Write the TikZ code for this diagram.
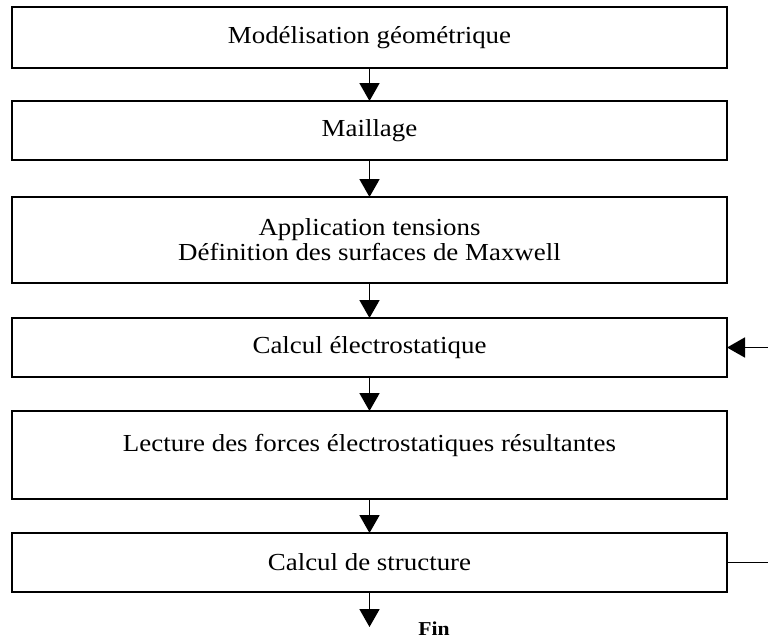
\documentclass[tikz,border=0pt]{standalone}
\usepackage{fontspec}
\setmainfont{Liberation Serif}[FakeStretch=1.1]
\usetikzlibrary{arrows.meta}
\definecolor{vblack}{HTML}{000000}

\tikzset{
	etape/.style = {draw = vblack, line width = 1.4pt, minimum width = 17.875cm, inner sep = 0pt, outer sep = 0pt, align = center, font = \fontsize{17.4}{17.8}\selectfont},
	fleche/.style = {draw = vblack, line width = 1.3pt, -{Triangle[width = 5mm, length = 4.5mm]}}
}

\begin{document}
\begin{tikzpicture}
	\useasboundingbox (0,0) rectangle (19.2,-15.95);
	% etapes
	\node[etape, minimum height = 1.525cm] (modele) at (9.2375,-0.9375) {Modélisation géométrique};
	\node[etape, minimum height = 1.475cm] (maillage) at (9.2375,-3.2625) {Maillage};
	\node[etape, minimum height = 2.15cm] (tensions) at (9.2375,-6.0) {Application tensions\\Définition des surfaces de Maxwell};
	\node[etape, minimum height = 1.475cm] (calcul) at (9.2375,-8.6875) {Calcul électrostatique};
	\node[etape, minimum height = 2.2cm] (forces) at (9.2375,-11.375) {Lecture des forces électrostatiques résultantes\\~};
	\node[etape, minimum height = 1.475cm] (structure) at (9.2375,-14.0625) {Calcul de structure};
	% fleches
	\draw[fleche] (modele) -- (maillage);
	\draw[fleche] (maillage) -- (tensions);
	\draw[fleche] (tensions) -- (calcul);
	\draw[fleche] (calcul) -- (forces);
	\draw[fleche] (forces) -- (structure);
	\draw[fleche] (structure.south) -- ++(0,-0.875) coordinate (fin);
	\node[anchor = base west, inner sep = 0pt, font = \bfseries\fontsize{14}{16}\selectfont] (fintexte) at (10.45,-15.875) {Fin};
	% retour
	\begin{scope}
		\clip (0,0) rectangle (19.2,-15.95);
		\draw[fleche] (structure.east) -- ++(1.5,0) |- (calcul.east);
	\end{scope}
\end{tikzpicture}
\end{document}
